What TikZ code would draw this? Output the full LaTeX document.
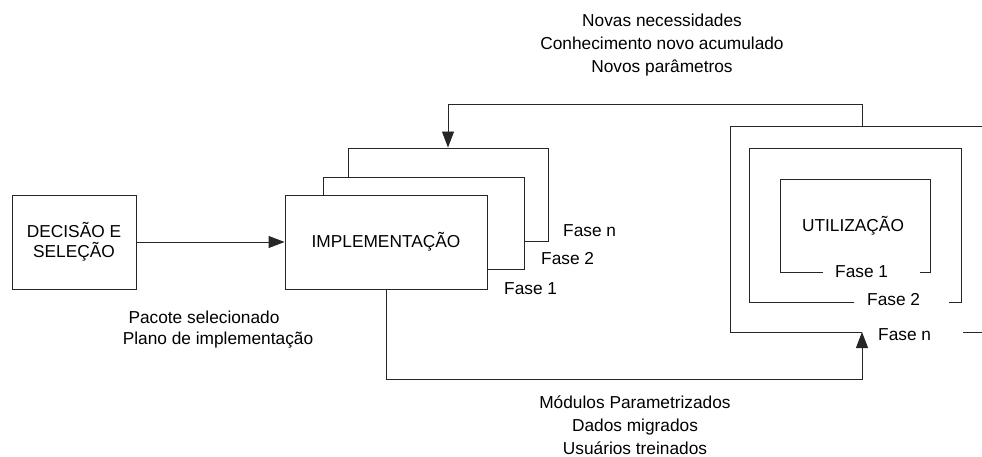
\documentclass[tikz,border=0pt]{standalone}
\usepackage{fontspec}
\setmainfont{Liberation Sans}
\usetikzlibrary{arrows.meta}
\begin{document}
\begin{tikzpicture}[x=1pt,y=-1pt,
  font=\fontsize{17.3}{23}\selectfont,
  line/.style={draw=black!85, line width=0.9pt},
  arr/.style={line, -{Triangle[length=16pt,width=12pt]}},
  box/.style={line, fill=white, inner sep=0pt, align=center},
  lbl/.style={inner sep=0pt, align=center}]
\useasboundingbox (0,0) rectangle (982,457);
\clip (0,0) rectangle (982,457);

% decision box
\node[box, minimum width=124pt, minimum height=94pt,
      font=\fontsize{17.3}{20}\selectfont] (dec) at (74,242) {DECISÃO E\\SELEÇÃO};

% stacked implementation phases (back to front)
\node[box, minimum width=200pt, minimum height=93pt] (impl3) at (448,194.5) {};
\node[box, minimum width=201pt, minimum height=92pt] (impl2) at (423.5,223) {};
\node[box, minimum width=202pt, minimum height=94pt] (impl) at (386,242) {IMPLEMENTAÇÃO};
\node[lbl, anchor=west] (fn) at (563,231) {Fase n};
\node[lbl, anchor=west] (f2) at (541,259) {Fase 2};
\node[lbl, anchor=west] (f1) at (504,289) {Fase 1};

% nested usage phases, each with its label in a gap of the bottom edge
\draw[line] (823,272) -- (780,272) -- (780,179) -- (930,179) -- (930,272) -- (920,272);
\draw[line] (854,302) -- (749,302) -- (749,148) -- (961,148) -- (961,302) -- (949,302);
\draw[line] (862,332) -- (730,332) -- (730,126) -- (995,126) -- (995,332) -- (963,332);
\coordinate (usetop) at (862,126);
\coordinate (usebot) at (862,332);
\node[lbl] (uso) at (853,226) {UTILIZAÇÃO};
\node[lbl, anchor=west] (u1) at (835,272) {Fase 1};
\node[lbl, anchor=west] (u2) at (867,300) {Fase 2};
\node[lbl, anchor=west] (un) at (878,335) {Fase n};

% connectors
\draw[arr] (dec.east) -- (impl.west);
\draw[arr] (impl.south) -- ++(0,90) -| (usebot);
\draw[arr] (usetop) -- ++(0,-22) -| (impl3.north);

% flow annotations
\node[lbl] (topnote) at (662,45) {Novas necessidades\\Conhecimento novo acumulado\\Novos parâmetros};
\node[lbl] (pac) at (204,317) {Pacote selecionado};
\node[lbl] (pla) at (218,340) {Plano de implementação};
\node[lbl] (botnote) at (635,425) {Módulos Parametrizados\\Dados migrados\\Usuários treinados};
\end{tikzpicture}
\end{document}
